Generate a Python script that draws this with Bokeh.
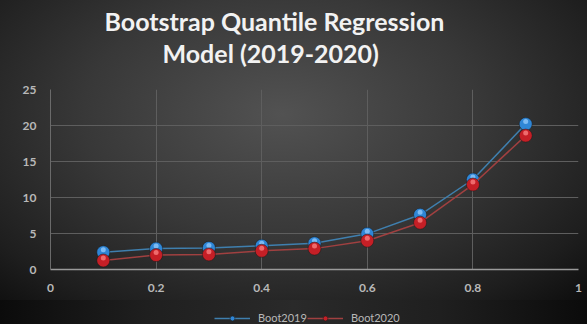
from bokeh.plotting import figure
from bokeh.layouts import column
from bokeh.models import Range1d, FixedTicker, Legend, LegendItem, Title, ColumnDataSource
from bokeh.transform import dodge
from bokeh.embed import file_html
from bokeh.resources import INLINE

# Quantile levels and bootstrap estimates per year
quantiles = [0.1, 0.2, 0.3, 0.4, 0.5, 0.6, 0.7, 0.8, 0.9]
boot2019 = [2.4, 2.9, 3.0, 3.3, 3.65, 4.95, 7.6, 12.5, 20.2]
boot2020 = [1.25, 2.0, 2.1, 2.6, 2.9, 4.0, 6.5, 11.8, 18.6]

x_ticks = [0, 0.2, 0.4, 0.6, 0.8, 1]
x_tick_labels = ["0", "0.2", "0.4", "0.6", "0.8", "1"]
y_ticks = [0, 5, 10, 15, 20, 25]

p = figure(
    frame_width=528, frame_height=180,
    x_range=Range1d(0, 1), y_range=Range1d(0, 25),
    output_backend="svg", toolbar_location=None,
    min_border_left=50, min_border_right=9,
    min_border_top=89, min_border_bottom=31,
)

# transparent canvas over a CSS radial gradient
p.background_fill_color = None
p.border_fill_color = None
p.outline_line_color = None
p.styles = {
    "background-image": "radial-gradient(ellipse 75% 90% at 48% 38%, #525252 0%, #383838 45%, #1e1e1e 80%, #0b0b0b 100%)"
}

# two-line heading, stacked upward from the frame; a blank spacer keeps it clear of the grid
p.title = None
p.add_layout(Title(text=" ", text_font_size="12px", standoff=6), "above")
title_lines = [
    ("Model (2019-2020)", 112),
    ("Bootstrap Quantile Regression", 54),
]
for line, shift in title_lines:
    t = Title(text=line, align="left", text_color="#f2f2f2",
              text_font="Lato", text_font_style="bold", text_font_size="25px",
              standoff=0, offset=shift)
    p.add_layout(t, "above")

# grid
for g in (p.xgrid, p.ygrid):
    g.grid_line_color = "#5e5e5e"
    g.grid_line_width = 1
p.xgrid.ticker = FixedTicker(ticks=x_ticks)
p.ygrid.ticker = FixedTicker(ticks=y_ticks)

# axes
p.xaxis.ticker = FixedTicker(ticks=x_ticks)
p.xaxis.major_label_overrides = {t: l for t, l in zip(x_ticks, x_tick_labels)}
p.yaxis.ticker = FixedTicker(ticks=y_ticks)
for ax in (p.xaxis, p.yaxis):
    ax.major_tick_line_color = None
    ax.minor_tick_line_color = None
    ax.major_tick_out = 0
    ax.major_tick_in = 0
    ax.major_label_text_color = "#b8b8b8"
    ax.major_label_text_font = "Lato"
    ax.major_label_text_font_style = "bold"
    ax.major_label_text_font_size = "12px"
p.xaxis.axis_line_color = "#9a9a9a"
p.xaxis.axis_line_width = 1.5
p.yaxis.axis_line_color = "#6a6a6a"
p.xaxis.major_label_standoff = 14
p.yaxis.major_label_standoff = 14

# series
series = [
    ("Boot2019", boot2019, "#3f7fae", "#2f86d6", "#9cd0ff"),
    ("Boot2020", boot2020, "#a04040", "#c51f26", "#ff8a8a"),
]

# legend strip underneath the chart (its range lies below every value, so only the legend shows)
lf = figure(
    width=587, height=24,
    x_range=Range1d(0, 1), y_range=Range1d(0, 1),
    output_backend="svg", toolbar_location=None,
    min_border=0, min_border_left=0, min_border_right=0,
    min_border_top=0, min_border_bottom=0,
)
lf.axis.visible = False
lf.grid.visible = False
lf.background_fill_color = None
lf.border_fill_color = None
lf.outline_line_color = None
lf.styles = {
    "background-image": "linear-gradient(to right, #0b0b0b 0%, #1f1f1f 25%, #2a2a2a 50%, #1f1f1f 75%, #0b0b0b 100%)"
}

items = []
for name, vals, line_col, dot_col, hi_col in series:
    src = ColumnDataSource(dict(x=quantiles, y=vals))
    p.line("x", "y", source=src, line_color=line_col, line_width=1.5)
    p.scatter("x", "y", source=src, size=13, fill_color=dot_col,
              line_color="#1a1a1a", line_width=0.5)
    # small glossy highlight on the upper part of each marker
    p.scatter("x", dodge("y", 0.35), source=src, size=5, fill_color=hi_col,
              fill_alpha=0.7, line_color=None)

    # legend swatches carry the same styling
    ln = lf.line("x", "y", source=src, line_color=line_col, line_width=1.5)
    dot = lf.scatter("x", "y", source=src, size=11, fill_color=dot_col,
                     line_color="#1a1a1a", line_width=0.5)
    items.append(LegendItem(label=name, renderers=[ln, dot]))

legend = Legend(items=items, orientation="horizontal", location=(164, 0),
                background_fill_alpha=0, border_line_color=None,
                label_text_color="#b8b8b8", label_text_font="Lato",
                label_text_font_size="11px", glyph_width=36, glyph_height=12,
                label_height=12, label_standoff=8, spacing=0,
                padding=0, margin=0)
lf.add_layout(legend, "center")

layout = column(p, lf, spacing=0)
open("out.html", "w").write(file_html(layout, INLINE))
